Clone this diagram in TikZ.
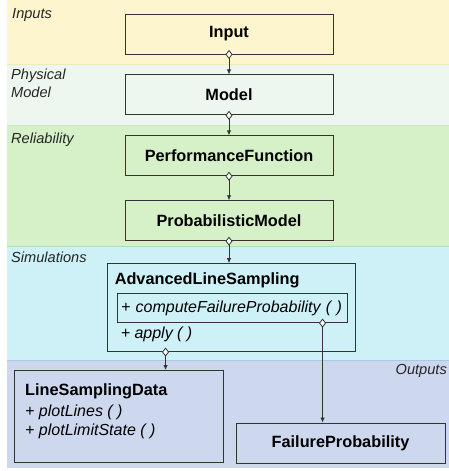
\documentclass[tikz,border=0pt]{standalone}
\usepackage{fontspec}
\setmainfont{Liberation Sans}
\usetikzlibrary{positioning,arrows.meta}

\definecolor{inputsbg}{RGB}{252,245,206}
\definecolor{physbg}{RGB}{238,247,239}
\definecolor{reliabbg}{RGB}{214,240,200}
\definecolor{simbg}{RGB}{206,241,248}
\definecolor{outbg}{RGB}{205,216,238}
\definecolor{sepinputs}{RGB}{240,232,190}
\definecolor{sepphys}{RGB}{205,232,195}
\definecolor{sepreliab}{RGB}{170,224,190}
\definecolor{sepsim}{RGB}{170,200,230}
\definecolor{linec}{RGB}{51,51,51}

\begin{document}
\begin{tikzpicture}[x=1pt, y=-1pt, node distance=20pt]
  \tikzset{
    classbox/.style={draw=linec, line width=0.9pt, rectangle, minimum height=40pt, minimum width=208pt, text centered, font=\fontsize{16.3}{19}\selectfont\bfseries},
    methodbox/.style={draw=linec, line width=0.9pt, rectangle, minimum height=29pt, text width=222pt, inner xsep=4pt, align=left, font=\fontsize{16}{19}\selectfont\itshape},
    classtitle/.style={inner sep=0pt, anchor=base west, font=\fontsize{16.3}{19}\selectfont\bfseries},
    method/.style={inner sep=0pt, anchor=base west, font=\fontsize{16}{19}\selectfont\itshape},
    layerlabel/.style={inner sep=0pt, text=black!85, font=\fontsize{14.6}{18}\selectfont\itshape},
    conn/.style={draw=linec, line width=0.8pt, shorten <=-4.5pt, {Diamond[fill=white, length=9pt, width=7pt]}-{Latex[length=5pt, width=4.5pt]}}
  }
  \useasboundingbox (0,0) rectangle (449,471);

  % layers
  \fill[inputsbg] (7,0) rectangle (449,64);
  \fill[physbg] (7,64) rectangle (449,125);
  \fill[reliabbg] (7,125) rectangle (449,246);
  \fill[simbg] (7,246) rectangle (449,360);
  \fill[outbg] (7,360) rectangle (449,468);
  \draw[sepinputs, line width=0.8pt] (7,64) -- (449,64);
  \draw[sepphys, line width=0.8pt] (7,125) -- (449,125);
  \draw[sepreliab, line width=0.8pt] (7,246) -- (449,246);
  \draw[sepsim, line width=0.8pt] (7,360) -- (449,360);

  \node[layerlabel, anchor=base west] (lblinputs) at (12,18.5) {Inputs};
  \node[layerlabel, anchor=base west] (lblphys) at (11,79) {Physical};
  \node[layerlabel, anchor=base west] (lblmodel) at (11,97) {Model};
  \node[layerlabel, anchor=base west] (lblrel) at (11,143) {Reliability};
  \node[layerlabel, anchor=base west] (lblsim) at (11,262) {Simulations};
  \node[layerlabel, anchor=base east] (lblout) at (447,374) {Outputs};

  % classes
  \node[classbox, fill=inputsbg] (input) at (229,34) {Input};
  \node[classbox, fill=physbg, below=of input] (model) {Model};
  \node[classbox, fill=reliabbg, below=of model] (perf) {PerformanceFunction};
  \node[classbox, fill=reliabbg, below=24pt of perf] (probmodel) {ProbabilisticModel};
  \node[classbox, fill=simbg, minimum width=248pt, minimum height=88pt, below=22pt of probmodel, xshift=2pt] (als) {};
  \node[classtitle] (alstitle) at ([shift={(8pt,-21pt)}]als.north west) {AdvancedLineSampling};
  \node[methodbox, anchor=north west] (cfp) at ([shift={(10pt,-30pt)}]als.north west) {+ computeFailureProbability ( )};
  \node[method] (apply) at ([shift={(14pt,-75pt)}]als.north west) {+ apply ( )};

  \node[classbox, fill=outbg, minimum width=209pt, minimum height=92pt, anchor=north west] (lsd) at (14,370) {};
  \node[classtitle] (lsdtitle) at ([shift={(11pt,-25pt)}]lsd.north west) {LineSamplingData};
  \node[method] (plotlines) at ([shift={(11pt,-46pt)}]lsd.north west) {+ plotLines ( )};
  \node[method] (plotls) at ([shift={(11pt,-65pt)}]lsd.north west) {+ plotLimitState ( )};
  \node[classbox, fill=outbg, minimum width=209pt] (failprob) at (340.5,443) {FailureProbability};

  % associations
  \draw[conn] (input) -- (model);
  \draw[conn] (model) -- (perf);
  \draw[conn] (perf) -- (probmodel);
  \draw[conn] (probmodel.south) -- (probmodel.south |- als.north);
  \coordinate (alsout) at ([xshift=59pt]als.south west);
  \draw[conn] (alsout) -- (alsout |- lsd.north);
  \coordinate (cfpout) at ([xshift=206pt]cfp.south west);
  \draw[conn] (cfpout) -- (cfpout |- failprob.north);
\end{tikzpicture}
\end{document}
